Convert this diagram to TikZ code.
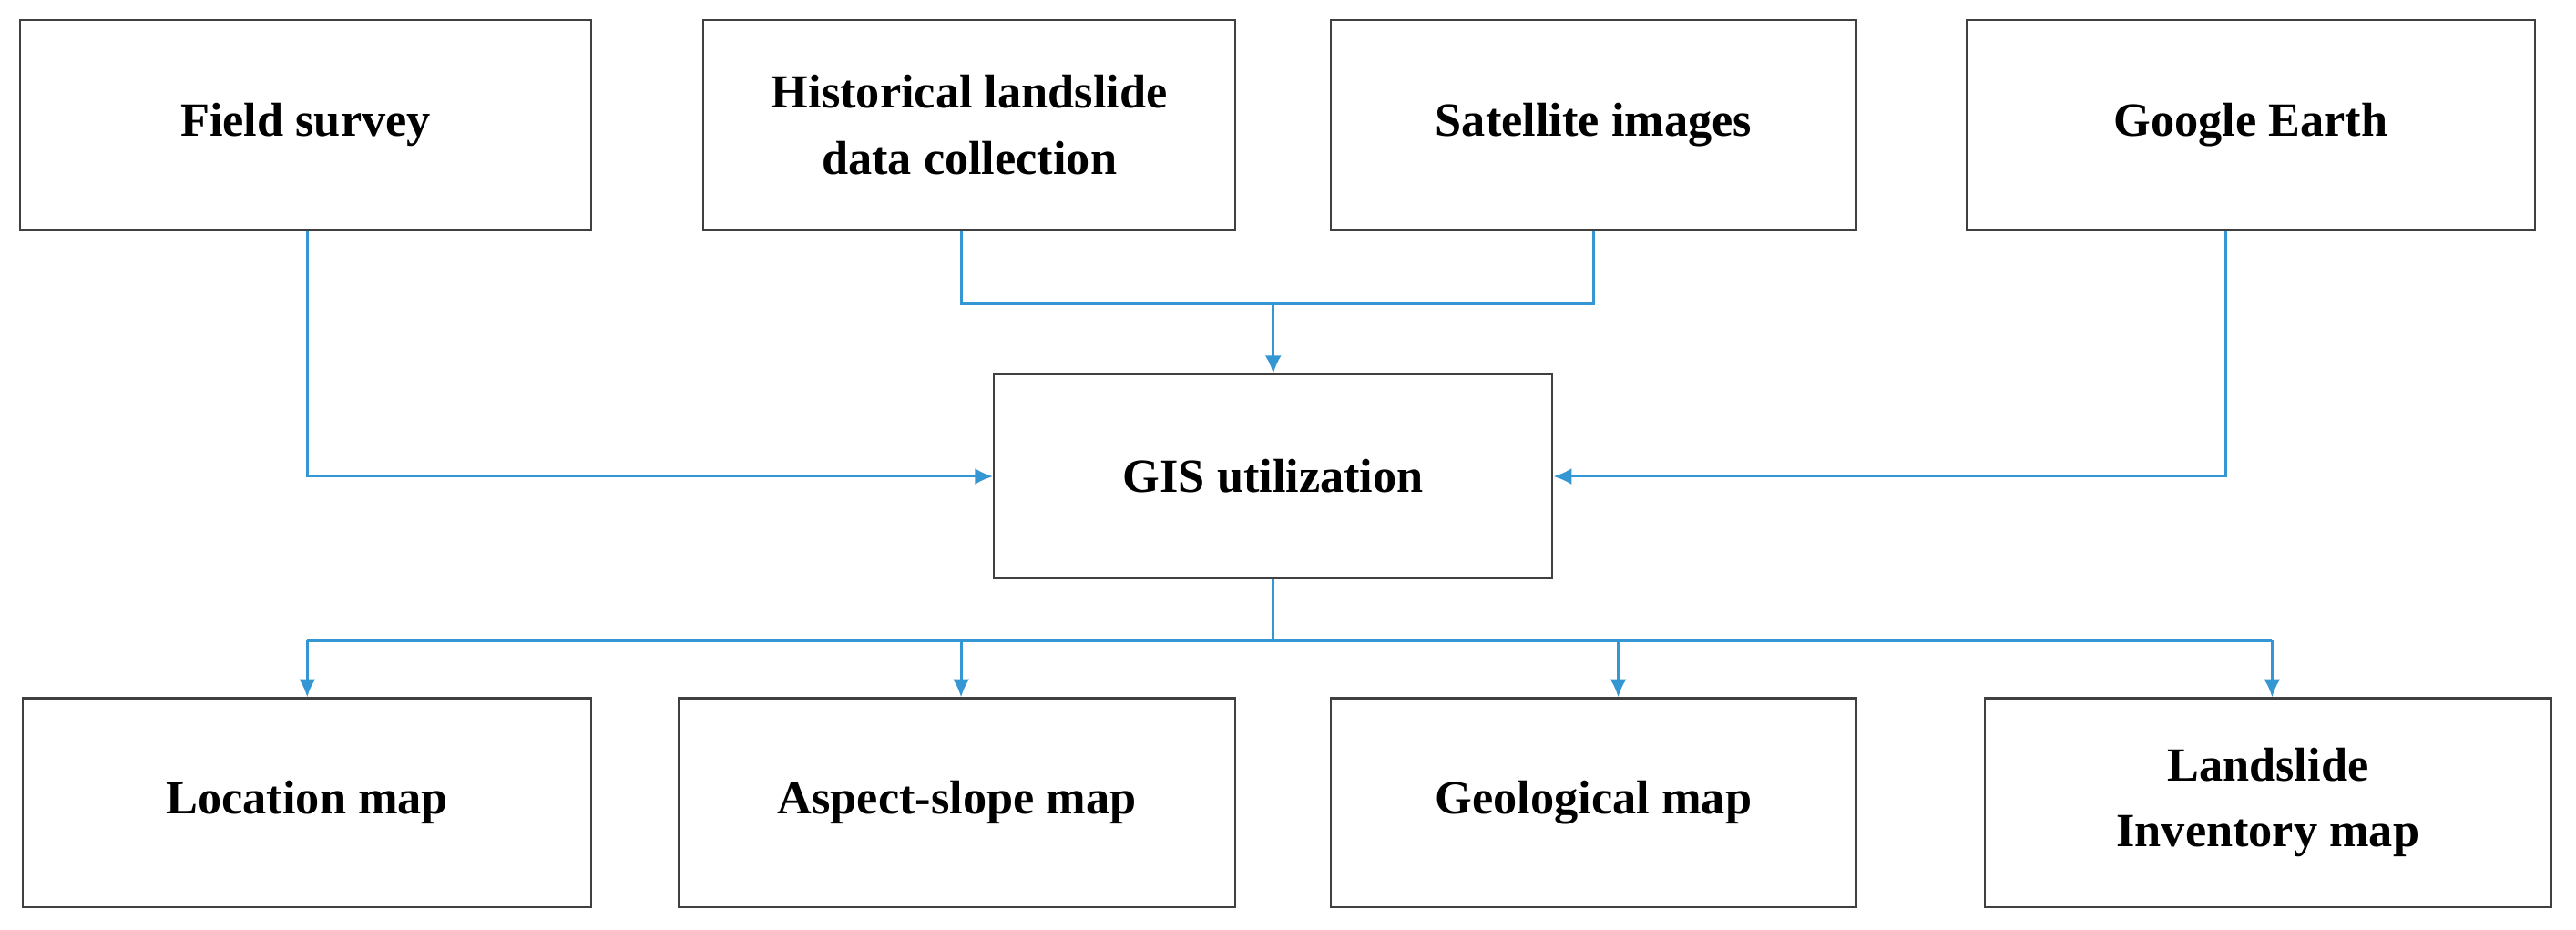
\documentclass[tikz,border=0pt]{standalone}
\usepackage{fontspec}
\setmainfont{Liberation Serif}
\usetikzlibrary{arrows.meta}
\begin{document}
\begin{tikzpicture}[x=1pt,y=-1pt,
  bx/.style={draw=black!75,line width=1.2pt,align=center,font=\fontsize{29}{40}\selectfont\bfseries,inner sep=0pt},
  ln/.style={draw={rgb,255:red,52;green,150;blue,210},line width=1.6pt},
  ar/.style={ln,-{Latex[length=11pt,width=10pt]}}]
\useasboundingbox (0,0) rectangle (1568,566);
\newcommand\bxat[6]{\node[bx,minimum width=#4-#2,minimum height=#5-#3] (#1) at ({(#2+#4)/2},{(#3+#5)/2}) {#6};}
\bxat{fs}{12}{12}{360}{140}{Field survey}
\bxat{hl}{428}{12}{752}{140}{Historical landslide\\data collection}
\bxat{si}{810}{12}{1130}{140}{Satellite images}
\bxat{ge}{1197}{12}{1543}{140}{Google Earth}
\bxat{gis}{605}{228}{945}{352}{GIS utilization}
\bxat{lm}{14}{425}{360}{552}{Location map}
\bxat{as}{413}{425}{752}{552}{Aspect-slope map}
\bxat{gm}{810}{425}{1130}{552}{Geological map}
\bxat{li}{1208}{425}{1553}{552}{Landslide\\Inventory map}
\coordinate (j1) at (775,185);
\coordinate (j2) at (775,390);
\draw[ln] (hl.south -| 585,0) |- (j1) -| (si.south -| 970,0);
\draw[ar] (j1) -- (gis.north -| j1);
\draw[ar] (fs.south -| 187,0) |- (gis.west |- 0,290);
\draw[ar] (ge.south -| 1355,0) |- (gis.east |- 0,290);
\draw[ln] (gis.south -| j2) -- (j2);
\draw[ln] (187,390) -- (1383,390);
\draw[ar] (187,390) -- (lm.north -| 187,0);
\draw[ar] (585,390) -- (as.north -| 585,0);
\draw[ar] (985,390) -- (gm.north -| 985,0);
\draw[ar] (1383,390) -- (li.north -| 1383,0);
\end{tikzpicture}
\end{document}
